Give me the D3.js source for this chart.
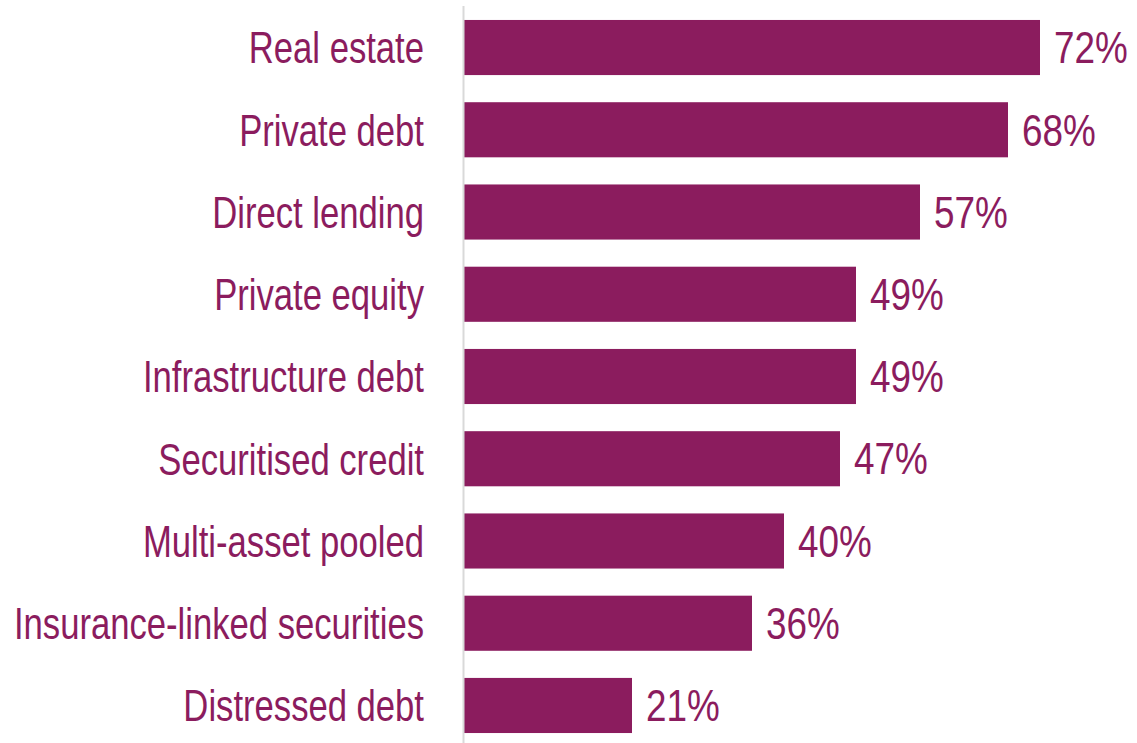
<!DOCTYPE html>
<html>
<head>
<meta charset="utf-8">
<script src="https://cdn.jsdelivr.net/npm/d3@7"></script>
<style>
  html, body { margin: 0; padding: 0; background: #ffffff; }
  svg { display: block; }
  .lbl { font-family: "Liberation Sans", Arial, sans-serif; fill: #8b1c5e; }
</style>
</head>
<body>
<svg id="chart" width="1137" height="743"></svg>
<script>
// Share of respondents by asset class (%)
const categories = [
  "Real estate",
  "Private debt",
  "Direct lending",
  "Private equity",
  "Infrastructure debt",
  "Securitised credit",
  "Multi-asset pooled",
  "Insurance-linked securities",
  "Distressed debt"
];
const values = [72, 68, 57, 49, 49, 47, 40, 36, 21];

const width = 1137, height = 743;
const barColor = "#8b1c5e";
const fontSize = 45;
const narrowCat = 0.77; // horizontal squeeze for a condensed look
const narrowVal = 0.82;

const svg = d3.select("#chart");

const x = d3.scaleLinear().domain([0, 100]).range([464, 1264]);
const y = d3.scaleBand()
  .domain(categories)
  .range([6.4, 746.6])
  .paddingInner(0.33)
  .paddingOuter(0.165);

// Bars
svg.append("g")
  .selectAll("rect")
  .data(categories)
  .join("rect")
  .attr("x", x(0))
  .attr("y", d => y(d))
  .attr("width", (d, i) => x(values[i]) - x(0))
  .attr("height", y.bandwidth())
  .attr("fill", barColor);

// Baseline
svg.append("line")
  .attr("x1", 463.5).attr("x2", 463.5)
  .attr("y1", 6).attr("y2", height)
  .attr("stroke", "#d9d9d9")
  .attr("stroke-width", 2);

// Category labels
svg.append("g")
  .selectAll("text")
  .data(categories)
  .join("text")
  .attr("class", "lbl")
  .attr("transform", d => `translate(424,${y(d) + y.bandwidth() / 2}) scale(${narrowCat},1)`)
  .attr("dy", "0.35em")
  .attr("text-anchor", "end")
  .attr("font-size", fontSize)
  .text(d => d);

// Value labels
svg.append("g")
  .selectAll("text")
  .data(categories)
  .join("text")
  .attr("class", "lbl")
  .attr("transform", (d, i) => `translate(${x(values[i]) + 14},${y(d) + y.bandwidth() / 2}) scale(${narrowVal},1)`)
  .attr("dy", "0.35em")
  .attr("font-size", fontSize)
  .text((d, i) => values[i] + "%");
</script>
</body>
</html>
